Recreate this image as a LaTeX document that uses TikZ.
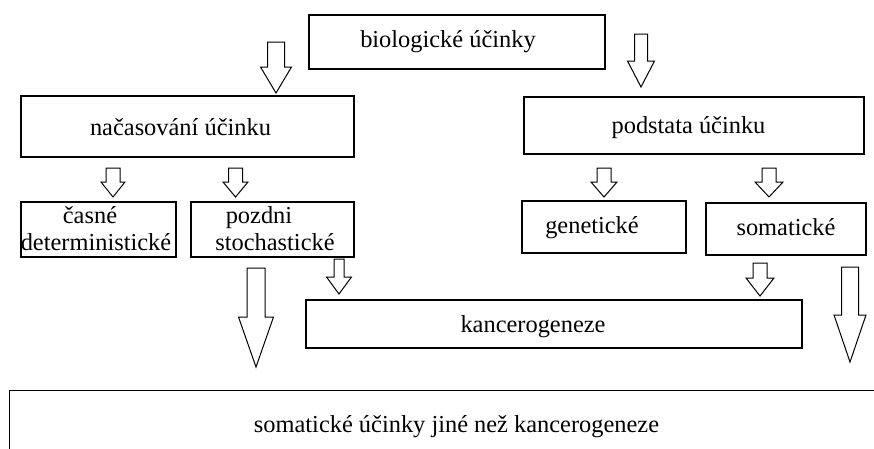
\documentclass[tikz,border=0pt]{standalone}
\usepackage{fontspec}
\setmainfont{Liberation Serif}
\newcommand\blockarr[7]{%
  \draw[barr] (#2-#4,#3) -- (#2+#4,#3) -- (#2+#4,#6) -- (#2+#5,#6) -- (#2,#7)
    -- (#2-#5,#6) -- (#2-#4,#6) -- cycle;
  \coordinate (#1) at (#2,#7);}
\begin{document}
\begin{tikzpicture}[x=1pt,y=-1pt,
  box/.style={draw=black, line width=1.3pt, fill=white, inner sep=0pt, rectangle},
  txt/.style={inner sep=0pt, anchor=base, font=\fontsize{24.4}{27}\selectfont, text=black},
  barr/.style={draw=black, line width=1pt, fill=white, line join=miter}]
\useasboundingbox (0,0) rectangle (874,448);
\clip (0,0) rectangle (874,448);
\fill[white] (0,0) rectangle (874,448);
% boxes
\node[box, minimum width=296pt, minimum height=54pt] (bio) at (457,42) {};
\node[box, minimum width=333pt, minimum height=61pt] (nac) at (187.5,126.5) {};
\node[box, minimum width=340pt, minimum height=57pt] (pod) at (694,125.5) {};
\node[box, minimum width=155pt, minimum height=55pt] (cas) at (98.5,229.5) {};
\node[box, minimum width=163pt, minimum height=55pt] (poz) at (272.5,229.5) {};
\node[box, minimum width=164pt, minimum height=52pt] (gen) at (604,227) {};
\node[box, minimum width=160pt, minimum height=52pt] (som) at (786,229) {};
\node[box, minimum width=496pt, minimum height=48pt] (kan) at (554,324) {};
\node[box, minimum width=900pt, minimum height=120pt, anchor=north west] (jin) at (9,390) {};
% texts
\node[txt] (tbio) at (448,47) {biologické účinky};
\node[txt] (tnac) at (180.5,135) {načasování účinku};
\node[txt] (tpod) at (688.5,133) {podstata účinku};
\node[txt] (tcas1) at (90,223) {časné};
\node[txt] (tcas2) at (96,250) {deterministické};
\node[txt] (tpoz1) at (259,223) {pozdni};
\node[txt] (tpoz2) at (275,250) {stochastické};
\node[txt] (tgen) at (592,233) {genetické};
\node[txt] (tsom) at (786,235) {somatické};
\node[txt] (tkan) at (533,332) {kancerogeneze};
\node[txt] (tjin) at (456.5,432) {somatické účinky jiné než kancerogeneze};
% block arrows
\blockarr{a1}{276}{42}{8.5}{15.5}{67}{93}
\blockarr{a2}{641}{34}{6.5}{13.5}{61}{87}
\blockarr{a3}{113}{168}{7}{12}{182}{197}
\blockarr{a4}{235.5}{168}{7}{12.5}{182}{197}
\blockarr{a5}{604}{168}{7}{13}{182}{197}
\blockarr{a6}{769}{168}{7}{14}{182}{197}
\blockarr{a7}{339}{259}{5}{12.5}{277}{294}
\blockarr{a8}{256}{268}{9}{17.5}{317}{367}
\blockarr{a9}{760}{263}{7}{14}{278}{296}
\blockarr{a10}{850}{267}{8.5}{16}{315}{362}
\end{tikzpicture}
\end{document}
